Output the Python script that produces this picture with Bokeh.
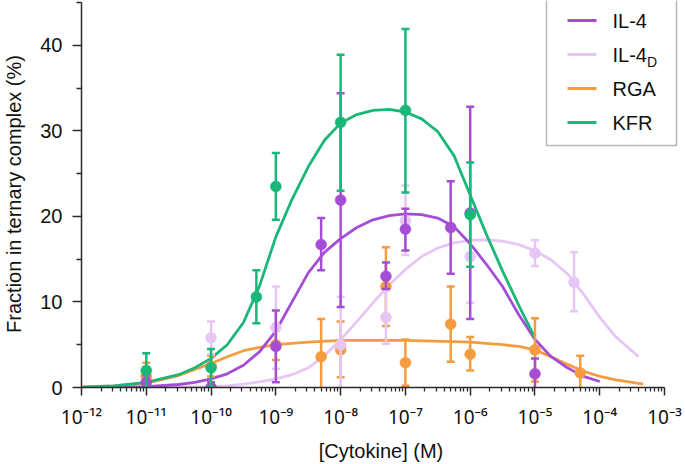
from bokeh.plotting import figure
from bokeh.models import Range1d, FixedTicker, CustomJSTickFormatter, Label, BoxAnnotation
from bokeh.embed import file_html
from bokeh.resources import INLINE

# ---------------- data ----------------
SERIES = ["IL-4", "IL-4D", "RGA", "KFR"]
COLORS = {"IL-4": "#a54ed5", "IL-4D": "#e7c6f6", "RGA": "#f59c40", "KFR": "#19b879"}

# measured points: x (M), mean (%), lower, upper
IL4_X = [1e-11, 1e-10, 1e-9, 5e-9, 1e-8, 5e-8, 1e-7, 5e-7, 1e-6, 1e-5]
IL4_Y = [0.6, 0.0, 4.8, 16.7, 21.9, 13.0, 18.5, 18.7, 20.4, 1.6]
IL4_LO = [-0.2, -0.6, 0.6, 13.7, 9.4, 11.5, 16.0, 13.3, 8.0, -0.2]
IL4_HI = [1.4, 0.6, 9.0, 19.8, 34.4, 14.6, 20.9, 24.1, 32.8, 3.4]

IL4D_X = [1e-10, 1e-9, 1e-8, 5e-8, 1e-7, 1e-6, 1e-5, 4e-5]
IL4D_Y = [5.8, 7.0, 5.0, 8.2, 19.5, 15.3, 15.7, 12.3]
IL4D_LO = [3.9, 2.2, -0.6, 5.1, 15.5, 9.9, 14.2, 8.9]
IL4D_HI = [7.7, 11.8, 10.6, 11.3, 23.6, 20.7, 17.2, 15.8]

RGA_X = [1e-11, 1e-10, 1e-9, 5e-9, 1e-8, 5e-8, 1e-7, 5e-7, 1e-6, 1e-5, 5e-5]
RGA_Y = [1.3, 2.5, 5.0, 3.6, 4.4, 11.8, 2.9, 7.4, 3.9, 4.4, 1.7]
RGA_LO = [-0.3, 1.3, 3.2, -0.8, 1.2, 7.2, 0.2, 3.0, 2.0, 0.7, -0.3]
RGA_HI = [2.9, 3.7, 6.8, 8.0, 7.7, 16.4, 5.6, 11.8, 5.9, 8.1, 3.7]

KFR_X = [1e-11, 1e-10, 5e-10, 1e-9, 1e-8, 1e-7, 1e-6]
KFR_Y = [2.0, 2.3, 10.6, 23.5, 31.0, 32.4, 20.2]
KFR_LO = [0.0, 0.1, 7.5, 19.6, 23.0, 22.8, 14.1]
KFR_HI = [4.0, 4.5, 13.7, 27.4, 38.9, 41.9, 26.3]

# fitted curves (x given as log10 of concentration)
IL4_FIT_LOGX = [-12, -11, -10.5, -10.25, -10, -9.75, -9.5, -9.25, -9, -8.75, -8.5, -8.25, -8,
                -7.75, -7.5, -7.25, -7, -6.75, -6.5, -6.25, -6, -5.75, -5.5, -5.25, -5,
                -4.75, -4.5, -4.25, -4]
IL4_FIT_Y = [0.0, 0.1, 0.35, 0.6, 1.0, 1.6, 2.6, 4.2, 6.6, 10.0, 13.4, 15.8, 17.4,
             18.7, 19.6, 20.1, 20.3, 20.2, 19.8, 18.8, 16.8, 14.4, 11.8, 8.5, 5.6,
             3.6, 2.3, 1.3, 0.7]

IL4D_FIT_LOGX = [-12, -11, -10, -9.75, -9.5, -9.25, -9, -8.75, -8.5, -8.25, -8, -7.75, -7.5,
                 -7.25, -7, -6.75, -6.5, -6.25, -6, -5.75, -5.5, -5.25, -5, -4.75, -4.5,
                 -4.25, -4, -3.75, -3.4]
IL4D_FIT_Y = [0.0, 0.0, 0.1, 0.2, 0.4, 0.65, 1.0, 1.5, 2.3, 3.7, 5.6, 7.7, 9.9,
              12.0, 13.8, 15.3, 16.3, 16.9, 17.2, 17.25, 17.1, 16.7, 16.0, 14.9, 13.3,
              10.9, 8.2, 5.9, 3.6]

RGA_FIT_LOGX = [-12, -11.5, -11, -10.5, -10.25, -10, -9.75, -9.5, -9.25, -9, -8.5, -8, -7,
                -6, -5.5, -5.25, -5, -4.75, -4.5, -4.25, -4, -3.75, -3.33]
RGA_FIT_Y = [0.05, 0.2, 0.5, 1.4, 2.1, 2.8, 3.6, 4.3, 4.7, 5.0, 5.3, 5.5, 5.5,
             5.3, 5.0, 4.8, 4.4, 3.6, 2.7, 1.9, 1.3, 0.9, 0.4]

KFR_FIT_LOGX = [-12, -11.5, -11, -10.5, -10.25, -10, -9.75, -9.5, -9.25, -9, -8.75, -8.5,
                -8.25, -8, -7.75, -7.5, -7.25, -7, -6.75, -6.5, -6.25, -6, -5.75, -5.5,
                -5.25, -5]
KFR_FIT_Y = [0.05, 0.2, 0.6, 1.5, 2.3, 3.4, 5.0, 7.6, 11.9, 17.6, 22.0, 25.8,
             28.9, 30.9, 31.9, 32.4, 32.5, 32.2, 31.4, 29.9, 27.1, 22.5, 17.9, 13.6,
             9.6, 5.8]

X_TICK_EXP = [-12, -11, -10, -9, -8, -7, -6, -5, -4, -3]
X_MINOR_MULT = [2, 3, 4, 5, 6, 7, 8, 9]
Y_TICKS = [0, 10, 20, 30, 40]
Y_MINOR = [5, 15, 25, 35, 45]

POINTS = {
    "IL-4": (IL4_X, IL4_Y, IL4_LO, IL4_HI),
    "IL-4D": (IL4D_X, IL4D_Y, IL4D_LO, IL4D_HI),
    "RGA": (RGA_X, RGA_Y, RGA_LO, RGA_HI),
    "KFR": (KFR_X, KFR_Y, KFR_LO, KFR_HI),
}
FITS = {
    "IL-4": (IL4_FIT_LOGX, IL4_FIT_Y),
    "IL-4D": (IL4D_FIT_LOGX, IL4D_FIT_Y),
    "RGA": (RGA_FIT_LOGX, RGA_FIT_Y),
    "KFR": (KFR_FIT_LOGX, KFR_FIT_Y),
}

FONT = "Liberation Sans"
TICK_FONT = "Noto Sans"
AXIS_COLOR = "#2b2b2b"
TEXT_COLOR = "#111111"

# ---------------- geometry (styling) ----------------
W, H = 685, 464
LEFT = 79
FRAME_W, FRAME_H = 601, 392
DECADE_PX = 65.0
X_LO, X_HI = 1e-12, 1e-3
X_END = 10 ** (-12 + FRAME_W / DECADE_PX)          # frame a little wider than the axis
Y_END = 45 + 2.0 * 45 / (FRAME_H - 2.0)             # 2 px of headroom above 45

p = figure(width=W, height=H, x_axis_type="log",
           x_range=Range1d(X_LO, X_END), y_range=Range1d(0, Y_END),
           output_backend="svg", toolbar_location=None,
           min_border_left=LEFT, min_border_right=W - LEFT - FRAME_W,
           min_border_top=0, min_border_bottom=H - FRAME_H)
p.outline_line_color = None
p.grid.visible = False
p.background_fill_color = "white"

draw_order = ["RGA", "IL-4D", "IL-4", "KFR"]
for name in draw_order:
    lx, fy = FITS[name]
    p.line([10.0 ** v for v in lx], fy, line_width=2.8, line_color=COLORS[name])

for name in draw_order:
    x, y, lo, hi = POINTS[name]
    c = COLORS[name]
    p.segment(x0=x, y0=lo, x1=x, y1=hi, line_width=2.5, line_color=c)
    p.scatter(x, hi, marker="dash", size=8, line_width=2.5, line_color=c)
    p.scatter(x, lo, marker="dash", size=8, line_width=2.5, line_color=c)
    p.scatter(x, y, marker="circle", size=11, fill_color=c, line_color=c, line_width=0.5)

# ---------------- axes ----------------
major = [10.0 ** e for e in X_TICK_EXP]
minor = [m * 10.0 ** e for e in X_TICK_EXP[:-1] for m in X_MINOR_MULT]
p.xaxis.ticker = FixedTicker(ticks=major, minor_ticks=minor)
p.xaxis.formatter = CustomJSTickFormatter(code="""
const sup = {'-': '\u207b', '0': '\u2070', '1': '\u00b9', '2': '\u00b2', '3': '\u00b3',
             '4': '\u2074', '5': '\u2075', '6': '\u2076', '7': '\u2077', '8': '\u2078', '9': '\u2079'};
const e = Math.round(Math.log10(tick));
return '10' + String(e).split('').map(c => sup[c]).join('');
""")
p.xaxis.bounds = (X_LO, X_HI)
p.yaxis.ticker = FixedTicker(ticks=Y_TICKS, minor_ticks=Y_MINOR)
p.yaxis.bounds = (0, 45)

for ax in (p.xaxis[0], p.yaxis[0]):
    ax.axis_line_color = AXIS_COLOR
    ax.axis_line_width = 1.5
    ax.major_tick_line_color = AXIS_COLOR
    ax.minor_tick_line_color = AXIS_COLOR
    ax.major_tick_line_width = 1.5
    ax.minor_tick_line_width = 1.3
    ax.major_tick_in = 0
    ax.minor_tick_in = 0
    ax.major_label_text_font = FONT
    ax.major_label_text_font_size = "20px"
    ax.major_label_text_color = TEXT_COLOR
    ax.axis_label_text_font = FONT
    ax.axis_label_text_font_size = "20px"
    ax.axis_label_text_font_style = "normal"
    ax.axis_label_text_color = TEXT_COLOR

p.xaxis.major_label_text_font = TICK_FONT
p.xaxis.major_label_text_font_size = "19px"
p.xaxis.major_tick_out = 8
p.xaxis.minor_tick_out = 4
p.xaxis.major_label_standoff = 8
p.xaxis.axis_label = "[Cytokine] (M)"
p.xaxis.axis_label_standoff = 7

p.yaxis.major_tick_out = 9
p.yaxis.minor_tick_out = 5
p.yaxis.major_label_standoff = 10
p.yaxis.axis_label = "Fraction in ternary complex (%)"
p.yaxis.axis_label_standoff = 12

# ---------------- legend (drawn by hand for the subscript) ----------------
LEG_R = (12 - 3) * DECADE_PX + 10      # 10 px right of the 1e-3 tick
LEG_L = LEG_R - 130
LEG_T = FRAME_H - 2
LEG_B = LEG_T - 148
p.add_layout(BoxAnnotation(left=LEG_L, right=LEG_R, top=LEG_T, bottom=LEG_B,
                           left_units="screen", right_units="screen",
                           top_units="screen", bottom_units="screen",
                           fill_color="white", fill_alpha=1.0,
                           line_color=TEXT_COLOR, line_width=1.5, level="overlay"))
for i, name in enumerate(SERIES):
    yc = LEG_T - 23 - 34 * i
    p.add_layout(BoxAnnotation(left=LEG_L + 21, right=LEG_L + 50, top=yc + 1.5, bottom=yc - 1.5,
                               left_units="screen", right_units="screen",
                               top_units="screen", bottom_units="screen",
                               fill_color=COLORS[name], fill_alpha=1.0, line_alpha=0,
                               level="overlay"))
    main = "IL-4" if name == "IL-4D" else name
    p.add_layout(Label(x=LEG_L + 66, y=yc, x_units="screen", y_units="screen", text=main,
                       text_baseline="middle", text_font=FONT, text_font_size="20px",
                       text_color=TEXT_COLOR, level="overlay"))
    if name == "IL-4D":
        p.add_layout(Label(x=LEG_L + 66 + 34.5, y=yc - 7, x_units="screen", y_units="screen",
                           text="D", text_baseline="middle", text_font=FONT,
                           text_font_size="14px", text_color=TEXT_COLOR, level="overlay"))

open("out.html", "w").write(file_html(p, INLINE))
